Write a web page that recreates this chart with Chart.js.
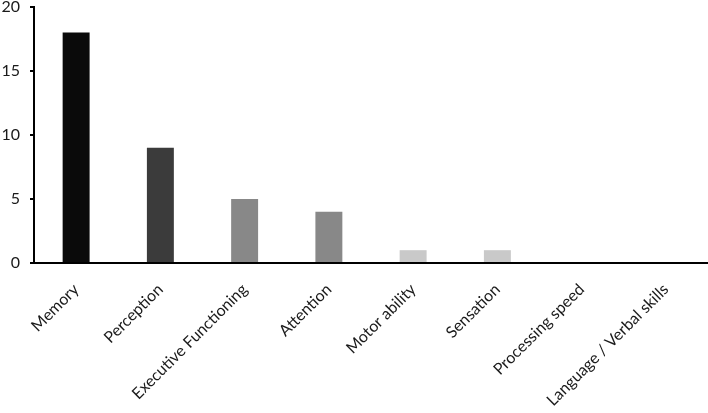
<!DOCTYPE html>
<html>
<head>
<meta charset="utf-8">
<script src="https://cdn.jsdelivr.net/npm/chart.js@4/dist/chart.umd.min.js"></script>
<style>
html,body{margin:0;padding:0;background:#fff;}
#wrap{width:708px;height:413px;position:relative;}
</style>
</head>
<body>
<div id="wrap"><canvas id="c"></canvas></div>
<script>
const categories = ["Memory","Perception","Executive Functioning","Attention","Motor ability","Sensation","Processing speed","Language / Verbal skills"];
const values = [18, 9, 5, 4, 1, 1, 0, 0];
const barColors = ["#0a0a0a","#3b3b3b","#888888","#888888","#c9c9c9","#c9c9c9","#c9c9c9","#c9c9c9"];
const yTicks = [0, 5, 10, 15, 20];

new Chart(document.getElementById('c'), {
  type: 'bar',
  data: {
    labels: categories,
    datasets: [{
      data: values,
      backgroundColor: barColors,
      borderWidth: 0,
      categoryPercentage: 1,
      barPercentage: 0.32
    }]
  },
  options: {
    responsive: true,
    maintainAspectRatio: false,
    animation: false,
    layout: { padding: 0 },
    plugins: { legend: { display: false }, tooltip: { enabled: false } },
    scales: {
      x: {
        grid: { display: false },
        border: { display: true, color: '#000', width: 2 },
        afterFit: (axis) => { axis.paddingLeft = 0; axis.paddingRight = 0; axis.height = 150; },
        ticks: {
          maxRotation: 45, minRotation: 45, autoSkip: false,
          color: '#1a1a1a',
          font: { family: 'Lato', size: 16 },
          padding: 9
        }
      },
      y: {
        min: 0, max: 20,
        afterBuildTicks: (axis) => { axis.ticks = yTicks.map(v => ({ value: v })); },
        afterFit: (axis) => { axis.paddingTop = 7; axis.paddingBottom = 0; axis.width = 34; },
        grid: { drawOnChartArea: false, drawTicks: true, tickLength: 4, color: '#000', lineWidth: 2 },
        border: { display: true, color: '#000', width: 2 },
        ticks: {
          color: '#1a1a1a',
          font: { family: 'Lato', size: 16 },
          padding: 10
        }
      }
    }
  }
});
</script>
</body>
</html>
